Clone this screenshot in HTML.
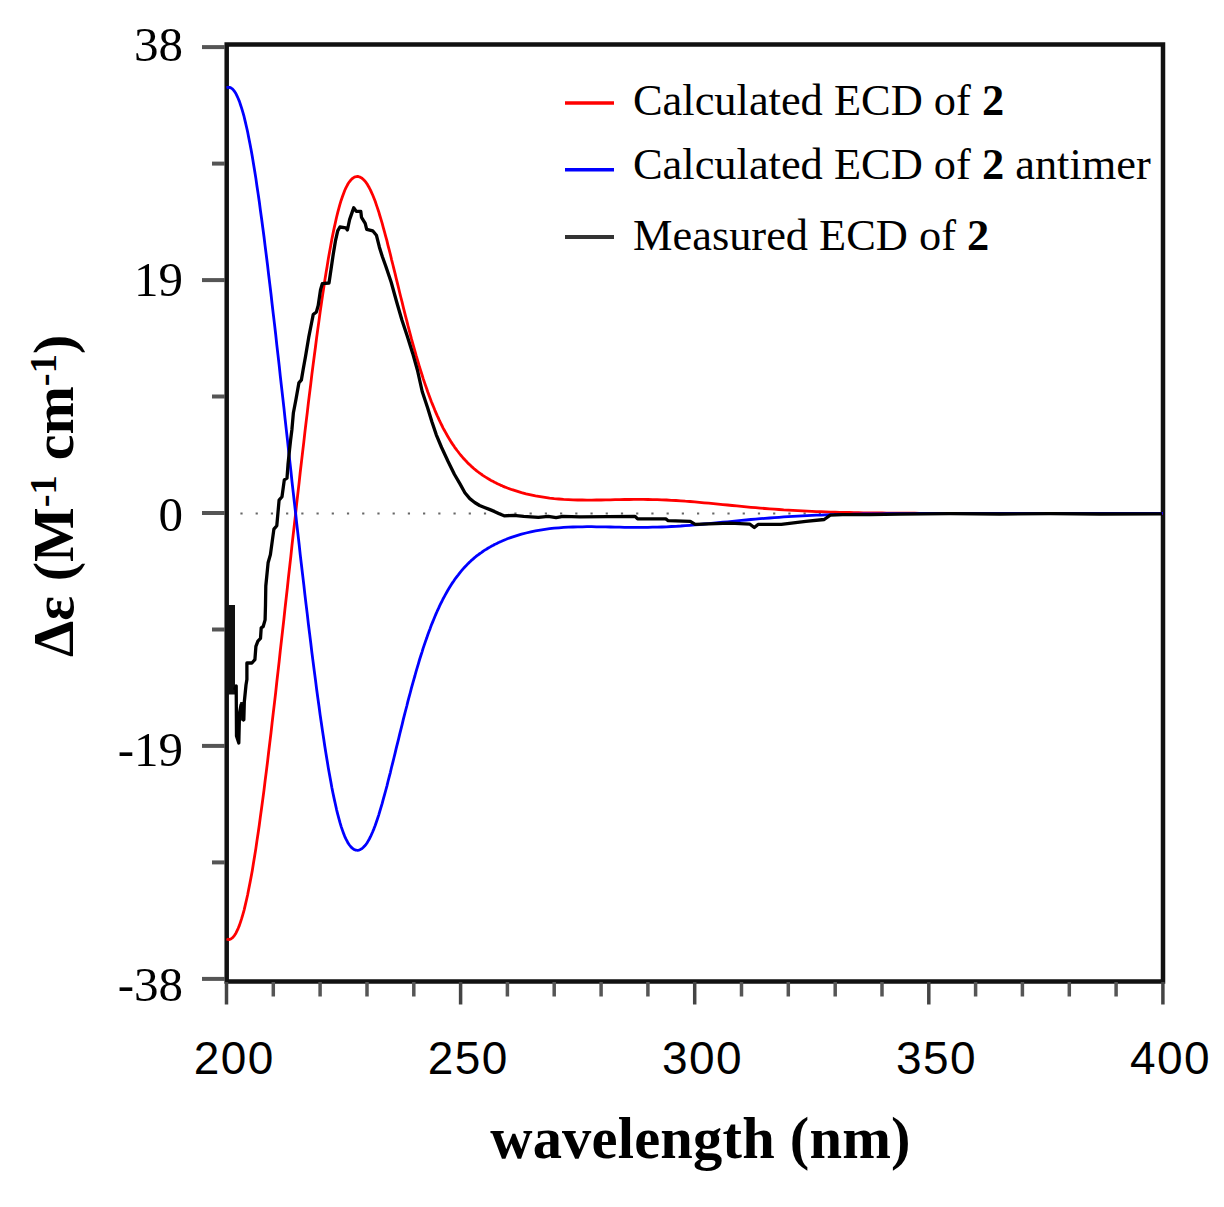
<!DOCTYPE html>
<html><head><meta charset="utf-8"><title>ECD</title>
<style>html,body{margin:0;padding:0;background:#fff;}svg{display:block;}text{fill:#000;}</style>
</head><body>
<svg width="1224" height="1207" viewBox="0 0 1224 1207">
<path d="M226.7 44.6 H1163 V981.6 H226.7 Z" fill="none" stroke="#111" stroke-width="4.5"/>
<line x1="202" y1="47.1" x2="225" y2="47.1" stroke="#555" stroke-width="4"/>
<line x1="202" y1="280.1" x2="225" y2="280.1" stroke="#555" stroke-width="4"/>
<line x1="202" y1="513.0" x2="225" y2="513.0" stroke="#555" stroke-width="4"/>
<line x1="202" y1="745.9" x2="225" y2="745.9" stroke="#555" stroke-width="4"/>
<line x1="202" y1="978.9" x2="225" y2="978.9" stroke="#555" stroke-width="4"/>
<line x1="212" y1="163.6" x2="225" y2="163.6" stroke="#555" stroke-width="4"/>
<line x1="212" y1="396.5" x2="225" y2="396.5" stroke="#555" stroke-width="4"/>
<line x1="212" y1="629.5" x2="225" y2="629.5" stroke="#555" stroke-width="4"/>
<line x1="212" y1="862.4" x2="225" y2="862.4" stroke="#555" stroke-width="4"/>
<line x1="226.5" y1="982" x2="226.5" y2="1004.5" stroke="#444" stroke-width="3.5"/>
<line x1="273.3" y1="982" x2="273.3" y2="996.5" stroke="#555" stroke-width="3.5"/>
<line x1="320.1" y1="982" x2="320.1" y2="996.5" stroke="#555" stroke-width="3.5"/>
<line x1="367.0" y1="982" x2="367.0" y2="996.5" stroke="#555" stroke-width="3.5"/>
<line x1="413.8" y1="982" x2="413.8" y2="996.5" stroke="#555" stroke-width="3.5"/>
<line x1="460.6" y1="982" x2="460.6" y2="1004.5" stroke="#444" stroke-width="3.5"/>
<line x1="507.4" y1="982" x2="507.4" y2="996.5" stroke="#555" stroke-width="3.5"/>
<line x1="554.2" y1="982" x2="554.2" y2="996.5" stroke="#555" stroke-width="3.5"/>
<line x1="601.1" y1="982" x2="601.1" y2="996.5" stroke="#555" stroke-width="3.5"/>
<line x1="647.9" y1="982" x2="647.9" y2="996.5" stroke="#555" stroke-width="3.5"/>
<line x1="694.7" y1="982" x2="694.7" y2="1004.5" stroke="#444" stroke-width="3.5"/>
<line x1="741.5" y1="982" x2="741.5" y2="996.5" stroke="#555" stroke-width="3.5"/>
<line x1="788.3" y1="982" x2="788.3" y2="996.5" stroke="#555" stroke-width="3.5"/>
<line x1="835.2" y1="982" x2="835.2" y2="996.5" stroke="#555" stroke-width="3.5"/>
<line x1="882.0" y1="982" x2="882.0" y2="996.5" stroke="#555" stroke-width="3.5"/>
<line x1="928.8" y1="982" x2="928.8" y2="1004.5" stroke="#444" stroke-width="3.5"/>
<line x1="975.6" y1="982" x2="975.6" y2="996.5" stroke="#555" stroke-width="3.5"/>
<line x1="1022.4" y1="982" x2="1022.4" y2="996.5" stroke="#555" stroke-width="3.5"/>
<line x1="1069.3" y1="982" x2="1069.3" y2="996.5" stroke="#555" stroke-width="3.5"/>
<line x1="1116.1" y1="982" x2="1116.1" y2="996.5" stroke="#555" stroke-width="3.5"/>
<line x1="1162.9" y1="982" x2="1162.9" y2="1004.5" stroke="#444" stroke-width="3.5"/>
<line x1="240.4" y1="513.5" x2="1160" y2="513.5" stroke="#666" stroke-width="2.2" stroke-dasharray="2.2 13.02"/>
<path d="M226.5 939.0 L227.7 939.4 L228.8 939.5 L230.0 939.3 L231.2 938.7 L232.4 937.9 L233.5 936.6 L234.7 935.1 L235.9 933.2 L237.0 930.9 L238.2 928.3 L239.4 925.4 L240.5 922.1 L241.7 918.4 L242.9 914.4 L244.1 910.1 L245.2 905.4 L246.4 900.3 L247.6 895.0 L248.7 889.3 L249.9 883.3 L251.1 877.0 L252.3 870.4 L253.4 863.5 L254.6 856.3 L255.8 848.9 L256.9 841.1 L258.1 833.2 L259.3 825.0 L260.4 816.6 L261.6 808.0 L262.8 799.1 L264.0 790.1 L265.1 780.9 L266.3 771.6 L267.5 762.1 L268.6 752.5 L269.8 742.7 L271.0 732.8 L272.1 722.8 L273.3 712.7 L274.5 702.6 L275.7 692.3 L276.8 682.0 L278.0 671.6 L279.2 661.2 L280.3 650.7 L281.5 640.2 L282.7 629.7 L283.9 619.2 L285.0 608.6 L286.2 598.0 L287.4 587.5 L288.5 576.9 L289.7 566.3 L290.9 555.8 L292.0 545.2 L293.2 534.7 L294.4 524.3 L295.6 513.8 L296.7 503.4 L297.9 493.1 L299.1 482.8 L300.2 472.5 L301.4 462.3 L302.6 452.2 L303.8 442.1 L304.9 432.1 L306.1 422.2 L307.3 412.4 L308.4 402.7 L309.6 393.1 L310.8 383.6 L311.9 374.2 L313.1 364.9 L314.3 355.7 L315.5 346.7 L316.6 337.8 L317.8 329.1 L319.0 320.6 L320.1 312.2 L321.3 304.0 L322.5 295.9 L323.7 288.1 L324.8 280.5 L326.0 273.0 L327.2 265.9 L328.3 258.9 L329.5 252.2 L330.7 245.7 L331.8 239.5 L333.0 233.6 L334.2 227.9 L335.4 222.5 L336.5 217.5 L337.7 212.7 L338.9 208.2 L340.0 204.1 L341.2 200.2 L342.4 196.7 L343.6 193.4 L344.7 190.5 L345.9 187.9 L347.1 185.6 L348.2 183.5 L349.4 181.8 L350.6 180.3 L351.7 179.1 L352.9 178.1 L354.1 177.3 L355.3 176.8 L356.4 176.6 L357.6 176.5 L358.8 176.7 L359.9 177.1 L361.1 177.7 L362.3 178.5 L363.4 179.5 L364.6 180.7 L365.8 182.2 L367.0 183.8 L368.1 185.7 L369.3 187.8 L370.5 190.1 L371.6 192.6 L372.8 195.3 L374.0 198.2 L375.2 201.3 L376.3 204.6 L377.5 208.1 L378.7 211.7 L379.8 215.5 L381.0 219.4 L382.2 223.4 L383.3 227.6 L384.5 231.9 L385.7 236.3 L386.9 240.7 L388.0 245.3 L389.2 249.9 L390.4 254.5 L391.5 259.3 L392.7 264.0 L393.9 268.8 L395.1 273.6 L396.2 278.4 L397.4 283.2 L398.6 288.0 L399.7 292.7 L400.9 297.5 L402.1 302.2 L403.2 306.9 L404.4 311.6 L405.6 316.3 L406.8 320.8 L407.9 325.4 L409.1 329.9 L410.3 334.3 L411.4 338.7 L412.6 343.0 L413.8 347.2 L415.0 351.3 L416.1 355.4 L417.3 359.4 L418.5 363.4 L419.6 367.3 L420.8 371.0 L422.0 374.7 L423.1 378.4 L424.3 381.9 L425.5 385.4 L426.7 388.7 L427.8 392.0 L429.0 395.3 L430.2 398.4 L431.3 401.5 L432.5 404.4 L433.7 407.3 L434.8 410.1 L436.0 412.9 L437.2 415.6 L438.4 418.1 L439.5 420.7 L440.7 423.1 L441.9 425.5 L443.0 427.8 L444.2 430.0 L445.4 432.2 L446.6 434.3 L447.7 436.3 L448.9 438.3 L450.1 440.2 L451.2 442.1 L452.4 443.9 L453.6 445.6 L454.7 447.3 L455.9 448.9 L457.1 450.5 L458.3 452.0 L459.4 453.5 L460.6 455.0 L461.8 456.4 L462.9 457.7 L464.1 459.0 L465.3 460.3 L466.5 461.5 L467.6 462.7 L468.8 463.9 L470.0 465.0 L471.1 466.1 L472.3 467.1 L473.5 468.2 L474.6 469.2 L475.8 470.1 L477.0 471.1 L478.2 472.0 L479.3 472.8 L480.5 473.7 L481.7 474.5 L482.8 475.3 L484.0 476.1 L485.2 476.9 L486.4 477.6 L487.5 478.3 L488.7 479.0 L489.9 479.7 L491.0 480.4 L492.2 481.0 L493.4 481.6 L494.5 482.3 L495.7 482.8 L496.9 483.4 L498.1 484.0 L499.2 484.5 L500.4 485.1 L501.6 485.6 L502.7 486.1 L503.9 486.6 L505.1 487.1 L506.2 487.5 L507.4 488.0 L512.1 489.7 L516.8 491.2 L521.5 492.6 L526.1 493.8 L530.8 494.9 L535.5 495.9 L540.2 496.7 L544.9 497.4 L549.6 498.1 L554.2 498.6 L558.9 499.0 L563.6 499.4 L568.3 499.6 L573.0 499.8 L577.7 500.0 L582.3 500.0 L587.0 500.1 L591.7 500.1 L596.4 500.0 L601.1 500.0 L605.7 499.9 L610.4 499.8 L615.1 499.7 L619.8 499.6 L624.5 499.5 L629.2 499.5 L633.8 499.4 L638.5 499.4 L643.2 499.4 L647.9 499.5 L652.6 499.6 L657.2 499.7 L661.9 499.8 L666.6 500.0 L671.3 500.3 L676.0 500.5 L680.7 500.8 L685.3 501.2 L690.0 501.5 L694.7 501.9 L699.4 502.3 L704.1 502.8 L708.7 503.2 L713.4 503.6 L718.1 504.1 L722.8 504.6 L727.5 505.0 L732.2 505.5 L736.8 505.9 L741.5 506.4 L746.2 506.8 L750.9 507.3 L755.6 507.7 L760.2 508.1 L764.9 508.5 L769.6 508.8 L774.3 509.2 L779.0 509.5 L783.7 509.9 L788.3 510.1 L793.0 510.4 L797.7 510.7 L802.4 510.9 L807.1 511.2 L811.8 511.4 L816.4 511.6 L821.1 511.7 L825.8 511.9 L830.5 512.1 L835.2 512.2 L839.8 512.3 L844.5 512.4 L849.2 512.5 L853.9 512.6 L858.6 512.7 L863.3 512.8 L867.9 512.9 L872.6 512.9 L877.3 513.0 L882.0 513.0 L886.7 513.1 L891.3 513.1 L896.0 513.1 L900.7 513.2 L905.4 513.2 L910.1 513.2 L914.8 513.2 L919.4 513.3 L924.1 513.3 L928.8 513.3 L933.5 513.3 L938.2 513.3 L942.8 513.3 L947.5 513.3 L952.2 513.3 L956.9 513.4 L961.6 513.4 L966.3 513.4 L970.9 513.4 L975.6 513.4 L980.3 513.4 L985.0 513.4 L989.7 513.4 L994.3 513.4 L999.0 513.4 L1003.7 513.4 L1008.4 513.4 L1013.1 513.4 L1017.8 513.4 L1022.4 513.4 L1027.1 513.4 L1031.8 513.4 L1036.5 513.4 L1041.2 513.4 L1045.8 513.4 L1050.5 513.4 L1055.2 513.4 L1059.9 513.4 L1064.6 513.4 L1069.3 513.4 L1073.9 513.4 L1078.6 513.4 L1083.3 513.4 L1088.0 513.4 L1092.7 513.4 L1097.4 513.4 L1102.0 513.4 L1106.7 513.4 L1111.4 513.4 L1116.1 513.4 L1120.8 513.4 L1125.4 513.4 L1130.1 513.4 L1134.8 513.4 L1139.5 513.4 L1144.2 513.4 L1148.9 513.4 L1153.5 513.4 L1158.2 513.4 L1162.9 513.4" fill="none" stroke="#ff0000" stroke-width="2.8" stroke-linejoin="round"/>
<path d="M226.5 87.8 L227.7 87.4 L228.8 87.3 L230.0 87.5 L231.2 88.1 L232.4 88.9 L233.5 90.2 L234.7 91.7 L235.9 93.6 L237.0 95.9 L238.2 98.5 L239.4 101.4 L240.5 104.7 L241.7 108.4 L242.9 112.4 L244.1 116.7 L245.2 121.4 L246.4 126.5 L247.6 131.8 L248.7 137.5 L249.9 143.5 L251.1 149.8 L252.3 156.4 L253.4 163.3 L254.6 170.5 L255.8 177.9 L256.9 185.7 L258.1 193.6 L259.3 201.8 L260.4 210.2 L261.6 218.8 L262.8 227.7 L264.0 236.7 L265.1 245.9 L266.3 255.2 L267.5 264.7 L268.6 274.3 L269.8 284.1 L271.0 294.0 L272.1 304.0 L273.3 314.1 L274.5 324.2 L275.7 334.5 L276.8 344.8 L278.0 355.2 L279.2 365.6 L280.3 376.1 L281.5 386.6 L282.7 397.1 L283.9 407.6 L285.0 418.2 L286.2 428.8 L287.4 439.3 L288.5 449.9 L289.7 460.5 L290.9 471.0 L292.0 481.6 L293.2 492.1 L294.4 502.5 L295.6 513.0 L296.7 523.4 L297.9 533.7 L299.1 544.0 L300.2 554.3 L301.4 564.5 L302.6 574.6 L303.8 584.7 L304.9 594.7 L306.1 604.6 L307.3 614.4 L308.4 624.1 L309.6 633.7 L310.8 643.2 L311.9 652.6 L313.1 661.9 L314.3 671.1 L315.5 680.1 L316.6 689.0 L317.8 697.7 L319.0 706.2 L320.1 714.6 L321.3 722.8 L322.5 730.9 L323.7 738.7 L324.8 746.3 L326.0 753.8 L327.2 760.9 L328.3 767.9 L329.5 774.6 L330.7 781.1 L331.8 787.3 L333.0 793.2 L334.2 798.9 L335.4 804.3 L336.5 809.3 L337.7 814.1 L338.9 818.6 L340.0 822.7 L341.2 826.6 L342.4 830.1 L343.6 833.4 L344.7 836.3 L345.9 838.9 L347.1 841.2 L348.2 843.3 L349.4 845.0 L350.6 846.5 L351.7 847.7 L352.9 848.7 L354.1 849.5 L355.3 850.0 L356.4 850.2 L357.6 850.3 L358.8 850.1 L359.9 849.7 L361.1 849.1 L362.3 848.3 L363.4 847.3 L364.6 846.1 L365.8 844.6 L367.0 843.0 L368.1 841.1 L369.3 839.0 L370.5 836.7 L371.6 834.2 L372.8 831.5 L374.0 828.6 L375.2 825.5 L376.3 822.2 L377.5 818.7 L378.7 815.1 L379.8 811.3 L381.0 807.4 L382.2 803.4 L383.3 799.2 L384.5 794.9 L385.7 790.5 L386.9 786.1 L388.0 781.5 L389.2 776.9 L390.4 772.3 L391.5 767.5 L392.7 762.8 L393.9 758.0 L395.1 753.2 L396.2 748.4 L397.4 743.6 L398.6 738.8 L399.7 734.1 L400.9 729.3 L402.1 724.6 L403.2 719.9 L404.4 715.2 L405.6 710.5 L406.8 706.0 L407.9 701.4 L409.1 696.9 L410.3 692.5 L411.4 688.1 L412.6 683.8 L413.8 679.6 L415.0 675.5 L416.1 671.4 L417.3 667.4 L418.5 663.4 L419.6 659.5 L420.8 655.8 L422.0 652.1 L423.1 648.4 L424.3 644.9 L425.5 641.4 L426.7 638.1 L427.8 634.8 L429.0 631.5 L430.2 628.4 L431.3 625.3 L432.5 622.4 L433.7 619.5 L434.8 616.7 L436.0 613.9 L437.2 611.2 L438.4 608.7 L439.5 606.1 L440.7 603.7 L441.9 601.3 L443.0 599.0 L444.2 596.8 L445.4 594.6 L446.6 592.5 L447.7 590.5 L448.9 588.5 L450.1 586.6 L451.2 584.7 L452.4 582.9 L453.6 581.2 L454.7 579.5 L455.9 577.9 L457.1 576.3 L458.3 574.8 L459.4 573.3 L460.6 571.8 L461.8 570.4 L462.9 569.1 L464.1 567.8 L465.3 566.5 L466.5 565.3 L467.6 564.1 L468.8 562.9 L470.0 561.8 L471.1 560.7 L472.3 559.7 L473.5 558.6 L474.6 557.6 L475.8 556.7 L477.0 555.7 L478.2 554.8 L479.3 554.0 L480.5 553.1 L481.7 552.3 L482.8 551.5 L484.0 550.7 L485.2 549.9 L486.4 549.2 L487.5 548.5 L488.7 547.8 L489.9 547.1 L491.0 546.4 L492.2 545.8 L493.4 545.2 L494.5 544.5 L495.7 544.0 L496.9 543.4 L498.1 542.8 L499.2 542.3 L500.4 541.7 L501.6 541.2 L502.7 540.7 L503.9 540.2 L505.1 539.7 L506.2 539.3 L507.4 538.8 L512.1 537.1 L516.8 535.6 L521.5 534.2 L526.1 533.0 L530.8 531.9 L535.5 530.9 L540.2 530.1 L544.9 529.4 L549.6 528.7 L554.2 528.2 L558.9 527.8 L563.6 527.4 L568.3 527.2 L573.0 527.0 L577.7 526.8 L582.3 526.8 L587.0 526.7 L591.7 526.7 L596.4 526.8 L601.1 526.8 L605.7 526.9 L610.4 527.0 L615.1 527.1 L619.8 527.2 L624.5 527.3 L629.2 527.3 L633.8 527.4 L638.5 527.4 L643.2 527.4 L647.9 527.3 L652.6 527.2 L657.2 527.1 L661.9 527.0 L666.6 526.8 L671.3 526.5 L676.0 526.3 L680.7 526.0 L685.3 525.6 L690.0 525.3 L694.7 524.9 L699.4 524.5 L704.1 524.0 L708.7 523.6 L713.4 523.2 L718.1 522.7 L722.8 522.2 L727.5 521.8 L732.2 521.3 L736.8 520.9 L741.5 520.4 L746.2 520.0 L750.9 519.5 L755.6 519.1 L760.2 518.7 L764.9 518.3 L769.6 518.0 L774.3 517.6 L779.0 517.3 L783.7 516.9 L788.3 516.7 L793.0 516.4 L797.7 516.1 L802.4 515.9 L807.1 515.6 L811.8 515.4 L816.4 515.2 L821.1 515.1 L825.8 514.9 L830.5 514.7 L835.2 514.6 L839.8 514.5 L844.5 514.4 L849.2 514.3 L853.9 514.2 L858.6 514.1 L863.3 514.0 L867.9 513.9 L872.6 513.9 L877.3 513.8 L882.0 513.8 L886.7 513.7 L891.3 513.7 L896.0 513.7 L900.7 513.6 L905.4 513.6 L910.1 513.6 L914.8 513.6 L919.4 513.5 L924.1 513.5 L928.8 513.5 L933.5 513.5 L938.2 513.5 L942.8 513.5 L947.5 513.5 L952.2 513.5 L956.9 513.4 L961.6 513.4 L966.3 513.4 L970.9 513.4 L975.6 513.4 L980.3 513.4 L985.0 513.4 L989.7 513.4 L994.3 513.4 L999.0 513.4 L1003.7 513.4 L1008.4 513.4 L1013.1 513.4 L1017.8 513.4 L1022.4 513.4 L1027.1 513.4 L1031.8 513.4 L1036.5 513.4 L1041.2 513.4 L1045.8 513.4 L1050.5 513.4 L1055.2 513.4 L1059.9 513.4 L1064.6 513.4 L1069.3 513.4 L1073.9 513.4 L1078.6 513.4 L1083.3 513.4 L1088.0 513.4 L1092.7 513.4 L1097.4 513.4 L1102.0 513.4 L1106.7 513.4 L1111.4 513.4 L1116.1 513.4 L1120.8 513.4 L1125.4 513.4 L1130.1 513.4 L1134.8 513.4 L1139.5 513.4 L1144.2 513.4 L1148.9 513.4 L1153.5 513.4 L1158.2 513.4 L1162.9 513.4" fill="none" stroke="#0000ff" stroke-width="2.8" stroke-linejoin="round"/>
<rect x="228" y="605" width="7" height="89.5" fill="#111"/>
<rect x="240.2" y="702" width="5.2" height="18.6" fill="#111"/>
<path d="M234.5 690.0 L236.2 686.0 L236.5 736.0 L238.8 743.0 L239.5 713.0 L241.0 705.0 L243.5 720.0 L244.3 702.0 L246.0 685.0 L246.9 679.5 L246.9 663.0 L251.9 663.0 L254.9 659.6 L255.9 646.4 L257.9 641.1 L260.5 638.4 L261.2 627.8 L263.2 626.5 L265.1 619.9 L265.5 605.0 L265.8 586.0 L268.1 562.8 L270.4 554.6 L273.9 529.1 L276.8 525.7 L279.1 500.1 L282.0 496.7 L284.3 479.9 L287.0 478.2 L288.0 464.5 L289.5 450.0 L290.6 440.0 L291.9 429.7 L293.4 412.7 L295.9 399.8 L298.9 382.9 L301.4 379.9 L303.2 369.3 L305.6 356.0 L308.7 337.4 L311.4 323.8 L313.2 314.6 L316.4 311.9 L318.2 305.5 L320.5 290.0 L322.3 283.7 L329.0 283.0 L331.0 269.5 L333.2 254.6 L335.4 241.2 L337.7 230.8 L339.9 227.0 L345.9 227.8 L347.4 230.0 L349.6 219.6 L352.2 212.1 L353.7 207.7 L356.3 211.4 L360.8 211.4 L361.5 217.4 L365.2 223.3 L366.7 229.3 L372.7 230.8 L376.4 235.2 L379.4 247.2 L382.4 256.8 L385.8 266.2 L391.2 282.3 L396.6 301.7 L401.9 320.0 L407.3 336.2 L412.7 353.4 L417.4 370.0 L422.2 391.5 L427.6 407.7 L431.9 421.7 L436.2 434.6 L441.6 447.5 L448.1 461.5 L454.5 474.5 L460.0 483.9 L464.9 492.7 L469.8 498.6 L474.7 502.5 L479.6 505.5 L484.5 507.5 L489.4 509.4 L494.3 511.4 L499.2 513.8 L504.1 515.8 L513.9 515.3 L523.7 516.3 L538.4 517.3 L548.2 516.3 L556.1 517.7 L562.9 516.3 L580.0 516.9 L635.1 516.4 L637.6 518.9 L665.8 518.9 L668.2 520.7 L690.3 521.3 L695.2 524.4 L730.0 523.2 L750.0 524.2 L754.3 527.5 L758.0 524.4 L781.3 524.4 L805.8 521.3 L824.2 519.5 L830.3 515.2 L842.5 514.6 L870.0 514.6 L900.0 514.2 L950.0 513.6 L1000.0 514.0 L1050.0 513.6 L1100.0 514.0 L1162.0 513.8" fill="none" stroke="#000" stroke-width="3.3" stroke-linejoin="round"/>
<text x="183" y="60.5" text-anchor="end" font-family="Liberation Serif" font-size="49">38</text>
<text x="183" y="295.5" text-anchor="end" font-family="Liberation Serif" font-size="49">19</text>
<text x="183" y="530.5" text-anchor="end" font-family="Liberation Serif" font-size="49">0</text>
<text x="183" y="765.5" text-anchor="end" font-family="Liberation Serif" font-size="49">-19</text>
<text x="183" y="1000.5" text-anchor="end" font-family="Liberation Serif" font-size="49">-38</text>
<text x="234.2" y="1074" text-anchor="middle" font-family="Liberation Sans" font-size="46" letter-spacing="1.4">200</text>
<text x="468.3" y="1074" text-anchor="middle" font-family="Liberation Sans" font-size="46" letter-spacing="1.4">250</text>
<text x="702.4" y="1074" text-anchor="middle" font-family="Liberation Sans" font-size="46" letter-spacing="1.4">300</text>
<text x="936.5" y="1074" text-anchor="middle" font-family="Liberation Sans" font-size="46" letter-spacing="1.4">350</text>
<text x="1170.6" y="1074" text-anchor="middle" font-family="Liberation Sans" font-size="46" letter-spacing="1.4">400</text>
<text x="700.5" y="1158" text-anchor="middle" font-family="Liberation Serif" font-weight="bold" font-size="58.5" letter-spacing="0.2">wavelength (nm)</text>
<text transform="translate(72.5 657) rotate(-90)" font-family="Liberation Serif" font-weight="bold" font-size="58">&#916;&#949; (M<tspan font-size="38.5" dy="-17">-1</tspan><tspan dy="17" dx="0.5"> cm</tspan><tspan font-size="38.5" dy="-17">-1</tspan><tspan dy="17">)</tspan></text>
<line x1="565" y1="103" x2="614" y2="103" stroke="#ff0000" stroke-width="3.5"/>
<line x1="565" y1="169.7" x2="614" y2="169.7" stroke="#0000ff" stroke-width="3.5"/>
<line x1="565" y1="237" x2="614" y2="237" stroke="#333" stroke-width="4"/>
<text x="633" y="115" font-family="Liberation Serif" font-size="44.4">Calculated ECD of <tspan font-weight="bold">2</tspan></text>
<text x="633" y="179.3" font-family="Liberation Serif" font-size="44.4">Calculated ECD of <tspan font-weight="bold">2</tspan> antimer</text>
<text x="633" y="250" font-family="Liberation Serif" font-size="44.4">Measured ECD of <tspan font-weight="bold">2</tspan></text>
</svg>
</body></html>
